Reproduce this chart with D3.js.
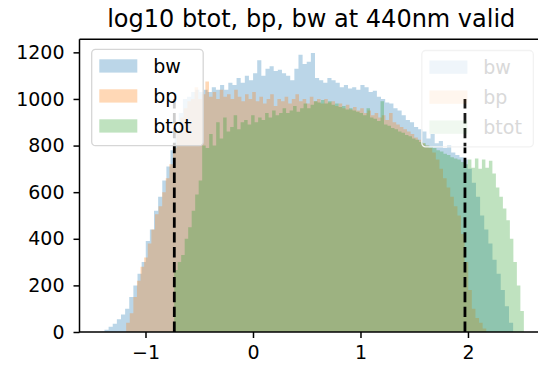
<!DOCTYPE html>
<html>
<head>
<meta charset="utf-8">
<script src="https://cdn.jsdelivr.net/npm/d3@7"></script>
<style>
    body { margin: 0; background: #fff; }
    svg { display: block; font-family: 'DejaVu Sans', sans-serif; }
</style>
</head>
<body>
<div id="svg-container"></div>
<script>
// Histogram counts (100 bins per series, each over its own range).
const bwRange = [-1.42, 2.42];
const bwCounts = [
    2, 10, 22, 35, 55, 75, 100, 150, 200, 250,
    300, 390, 440, 520, 580, 650, 710, 780, 860, 940,
    1000, 1010, 1030, 1040, 1030, 1040, 1030, 1050, 1040, 1060,
    1040, 1070, 1060, 1090, 1070, 1100, 1080, 1110, 1166, 1100,
    1130, 1140, 1120, 1125, 1110, 1100, 1080, 1130, 1190, 1150,
    1160, 1197, 1090, 1080, 1070, 1090, 1080, 1070, 1050, 1060,
    1045, 1050, 1040, 1060, 1050, 1030, 1035, 1010, 1000, 985,
    980, 960, 950, 930, 910, 900, 880, 870, 860, 830,
    850, 810, 820, 790, 800, 770, 760, 750, 740, 700,
    640, 580, 500, 440, 380, 310, 250, 180, 110, 40
];

const bpRange = [-1.18, 2.17];
const bpCounts = [
    40, 80, 150, 220, 280, 320, 380, 440, 505, 540,
    600, 660, 720, 790, 860, 920, 960, 990, 1000, 1050,
    1000, 1020, 1075, 1010, 1030, 1000, 1040, 1010, 1020, 1000,
    1040, 1010, 990, 1020, 1000, 1030, 990, 1010, 980, 1000,
    1020, 970, 1000, 990, 1010, 980, 1000, 1020, 990, 1000,
    980, 1010, 990, 1000, 980, 1000, 985, 990, 970, 980,
    960, 975, 955, 965, 950, 960, 940, 950, 930, 940,
    920, 930, 910, 940, 900, 890, 880, 870, 860, 850,
    835, 825, 810, 800, 790, 770, 740, 700, 660, 620,
    580, 540, 500, 420, 300, 180, 100, 60, 40, 15
];

const btotRange = [-0.733, 2.52];
const btotCounts = [
    266, 300, 330, 400, 450, 520, 590, 650, 800, 790,
    850, 800, 900, 830, 920, 860, 880, 930, 870, 900,
    910, 890, 930, 900, 920, 910, 940, 920, 950, 930,
    940, 960, 940, 950, 970, 945, 960, 980, 960, 975,
    990, 985, 995, 980, 990, 975, 980, 965, 970, 955,
    960, 950, 945, 940, 930, 960, 920, 915, 905, 990,
    890, 885, 875, 870, 860, 855, 845, 840, 830, 825,
    815, 810, 800, 795, 790, 780, 775, 765, 760, 750,
    745, 740, 730, 720, 740, 705, 745, 700, 740, 705,
    735, 680, 620, 580, 530, 480, 400, 300, 200, 90
];

const seriesNames = ['bw', 'bp', 'btot'];
const seriesColors = ['#1f77b4', '#ff7f0e', '#2ca02c'];
const vLines = [-0.732, 1.972];
const vLineTop = 1000;
const xTicks = [-1, 0, 1, 2];
const yTicks = [0, 200, 400, 600, 800, 1000, 1200];
const titleText = 'log10 btot, bp, bw at 440nm valid';

const width = 538, height = 367;
const plot = { left: 79.5, right: 543, top: 39.3, bottom: 332 };
const fontSize = 19;

const svg = d3
    .select('#svg-container')
    .append('svg')
    .attr('width', width)
    .attr('height', height);

const x = d3.scaleLinear().domain([-1.614, 2.698]).range([plot.left, plot.right]);
const y = d3.scaleLinear().domain([0, 1256]).range([plot.bottom, plot.top]);

svg.append('defs')
    .append('clipPath')
    .attr('id', 'plot-clip')
    .append('rect')
    .attr('x', plot.left)
    .attr('y', plot.top)
    .attr('width', plot.right - plot.left)
    .attr('height', plot.bottom - plot.top);

const content = svg.append('g').attr('clip-path', 'url(#plot-clip)');

// Turn bin counts into a step outline so neighbouring bars have no seams.
function histPoints(range, counts) {
    const step = (range[1] - range[0]) / counts.length;
    const pts = [[range[0], 0]];
    counts.forEach((c, i) => {
        pts.push([range[0] + i * step, c]);
        pts.push([range[0] + (i + 1) * step, c]);
    });
    pts.push([range[1], 0]);
    return pts;
}

const line = d3.line().x((d) => x(d[0])).y((d) => y(d[1]));

const series = [
    { range: bwRange, counts: bwCounts },
    { range: bpRange, counts: bpCounts },
    { range: btotRange, counts: btotCounts }
];

series.forEach((s, i) => {
    content.append('path')
        .attr('d', line(histPoints(s.range, s.counts)) + 'Z')
        .attr('fill', seriesColors[i])
        .attr('fill-opacity', 0.3)
        .attr('stroke', 'none');
});

// Dashed limits.
vLines.forEach((v) => {
    content.append('line')
        .attr('x1', x(v)).attr('x2', x(v))
        .attr('y1', y(0)).attr('y2', y(vLineTop))
        .attr('stroke', '#000')
        .attr('stroke-width', 2.8)
        .attr('stroke-dasharray', '10.4,4.5');
});

// Axes.
const xAxis = svg.append('g')
    .attr('transform', `translate(0,${plot.bottom})`)
    .call(d3.axisBottom(x).tickValues(xTicks).tickSize(6).tickPadding(7)
        .tickFormat((d) => (d < 0 ? '\u2212' + Math.abs(d) : d)));
const yAxis = svg.append('g')
    .attr('transform', `translate(${plot.left},0)`)
    .call(d3.axisLeft(y).tickValues(yTicks).tickSize(6).tickPadding(9).tickFormat(d3.format('d')));

[xAxis, yAxis].forEach((a) => {
    a.select('.domain').remove();
    a.selectAll('.tick line').attr('stroke', '#000').attr('stroke-width', 1.5);
    a.selectAll('.tick text')
        .attr('fill', '#000')
        .style('font-size', fontSize + 'px')
        .style('font-family', "'DejaVu Sans', sans-serif");
});
xAxis.selectAll('.tick text').attr('dy', '0.72em');

// Spines (left, bottom, top; the right one falls outside the picture).
svg.append('path')
    .attr('d', `M${plot.left},${plot.top}V${plot.bottom}H${plot.right}M${plot.left},${plot.top}H${plot.right}`)
    .attr('fill', 'none')
    .attr('stroke', '#000')
    .attr('stroke-width', 1.5);

svg.append('text')
    .attr('x', (plot.left + plot.right) / 2)
    .attr('y', 27)
    .attr('text-anchor', 'middle')
    .style('font-size', '24px')
    .attr('fill', '#000')
    .text(titleText);

function drawLegend(left, top, faded) {
    const g = svg.append('g').attr('transform', `translate(${left},${top})`);
    g.append('rect')
        .attr('width', 111.5)
        .attr('height', 96.4)
        .attr('rx', 3.8)
        .attr('fill', '#fff')
        .attr('fill-opacity', faded ? 0.1 : 0.8)
        .attr('stroke', faded ? '#f2f2f2' : '#d6d6d6')
        .attr('stroke-width', 1.3);
    seriesNames.forEach((name, i) => {
        const rowY = 10 + i * 30;
        g.append('rect')
            .attr('x', 7.6)
            .attr('y', rowY)
            .attr('width', 38)
            .attr('height', 13.3)
            .attr('fill', seriesColors[i])
            .attr('fill-opacity', faded ? 0.07 : 0.3);
        g.append('text')
            .attr('x', 61.5)
            .attr('y', rowY + 13.5)
            .style('font-size', fontSize + 'px')
            .attr('fill', faded ? '#d9d9d9' : '#000')
            .text(name);
    });
}

drawLegend(91.7, 49.3, false);
drawLegend(421.8, 50.5, true);
</script>
</body>
</html>
